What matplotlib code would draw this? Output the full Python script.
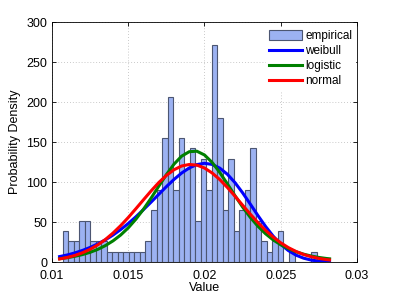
import numpy as np
import matplotlib
matplotlib.use("Agg")
import matplotlib.pyplot as plt

plt.rcParams["font.family"] = ["Liberation Sans", "DejaVu Sans"]

# histogram (density per bin)
bin_start = 0.0107
bin_width = 0.000362
density = [38.7, 25.8, 25.8, 51.6, 51.6, 25.8, 25.8, 25.8,
           12.9, 12.9, 12.9, 12.9, 12.9, 12.9, 12.9,
           25.8, 64.5, 90.3, 154.8, 206.4, 90.3, 154.8, 116.1, 141.9,
           51.6, 129.0, 90.3, 270.9, 180.6, 64.5, 129.0, 38.7, 64.5,
           90.3, 141.9, 51.6, 25.8, 12.9, 25.8, 38.7, 0.0, 12.9,
           0.0, 0.0, 0.0, 12.9]

# fitted curves
xs = [0.0105, 0.0110, 0.0115, 0.0120, 0.0125, 0.0130, 0.0135, 0.0140,
      0.0145, 0.0150, 0.0155, 0.0160, 0.0165, 0.0170, 0.0175, 0.0180,
      0.0185, 0.0190, 0.0195, 0.0200, 0.0205, 0.0210, 0.0215, 0.0220,
      0.0225, 0.0230, 0.0235, 0.0240, 0.0245, 0.0250, 0.0255, 0.0260,
      0.0265, 0.0270, 0.0275, 0.0280, 0.0282]
weibull = [6.8, 8.8, 11.4, 14.5, 18.2, 22.6, 27.7, 33.7, 40.5, 48.1,
           56.5, 65.5, 74.9, 84.6, 94.2, 103.2, 111.2, 117.6, 121.8,
           123.4, 122.0, 117.4, 109.7, 99.2, 86.5, 72.5, 58.2, 44.6,
           32.4, 22.2, 14.3, 8.6, 4.8, 2.4, 1.1, 0.5, 0.3]
logistic = [4.1, 5.4, 7.1, 9.3, 12.1, 15.8, 20.5, 26.4, 33.7, 42.7,
            53.5, 66.0, 79.9, 94.7, 109.2, 122.3, 132.3, 137.9, 138.5,
            133.8, 124.5, 112.0, 97.7, 82.9, 68.7, 55.9, 44.8, 35.4,
            27.7, 21.6, 16.7, 12.8, 9.8, 7.5, 5.7, 4.4, 4.0]
normal = [3.8, 5.7, 8.2, 11.6, 15.9, 21.4, 28.1, 36.2, 45.4, 55.6,
          66.6, 77.8, 88.9, 99.3, 108.2, 115.3, 120.0, 121.9, 121.1,
          117.5, 111.3, 103.1, 93.2, 82.3, 71.0, 59.9, 49.3, 39.7,
          31.2, 24.0, 18.0, 13.2, 9.4, 6.6, 4.5, 3.0, 2.6]

xticks = [0.01, 0.015, 0.02, 0.025, 0.03]
xticklabels = ["0.01", "0.015", "0.02", "0.025", "0.03"]
yticks = [0, 50, 100, 150, 200, 250, 300]

fig = plt.figure(figsize=(3.95, 2.97), dpi=100)
ax = fig.add_axes([0.1316, 0.1178, 0.7722, 0.8081])

lefts = bin_start + bin_width * np.arange(len(density))
bars = ax.bar(lefts, density, width=bin_width, align="edge", color="#9cb2f2",
              edgecolor="#4c5672", linewidth=0.8, zorder=2)
l1, = ax.plot(xs, weibull, color="#0000ff", lw=2.2, zorder=3)
l2, = ax.plot(xs, logistic, color="#008000", lw=2.2, zorder=3)
l3, = ax.plot(xs, normal, color="#ff0000", lw=2.2, zorder=3)

ax.set_xlim(0.01, 0.03)
ax.set_ylim(0, 300)
ax.set_xticks(xticks)
ax.set_xticklabels(xticklabels)
ax.set_yticks(yticks)
ax.tick_params(direction="in", top=True, right=True, labelsize=9, length=3,
               width=0.6)
ax.tick_params(axis="x", pad=5.5)
ax.tick_params(axis="y", pad=3.5)
ax.grid(True, color="#b8b8b8", linestyle=(0, (1, 2.5)), linewidth=0.6, zorder=0)
ax.set_axisbelow(True)
for s in ax.spines.values():
    s.set_linewidth(0.6)

ax.set_xlabel("Value", fontsize=9, labelpad=0)
ax.set_ylabel("Probability Density", fontsize=9, labelpad=4)

leg = ax.legend([bars, l1, l2, l3], ["empirical", "weibull", "logistic", "normal"],
                loc="upper right", bbox_to_anchor=(1.0, 0.985), fontsize=8.5,
                frameon=True, fancybox=False, edgecolor="white", framealpha=1,
                borderpad=0.2, borderaxespad=0.2, labelspacing=0.25,
                handlelength=2.8, handletextpad=0.3, handleheight=0.9)

fig.savefig("out.png", dpi=100)
